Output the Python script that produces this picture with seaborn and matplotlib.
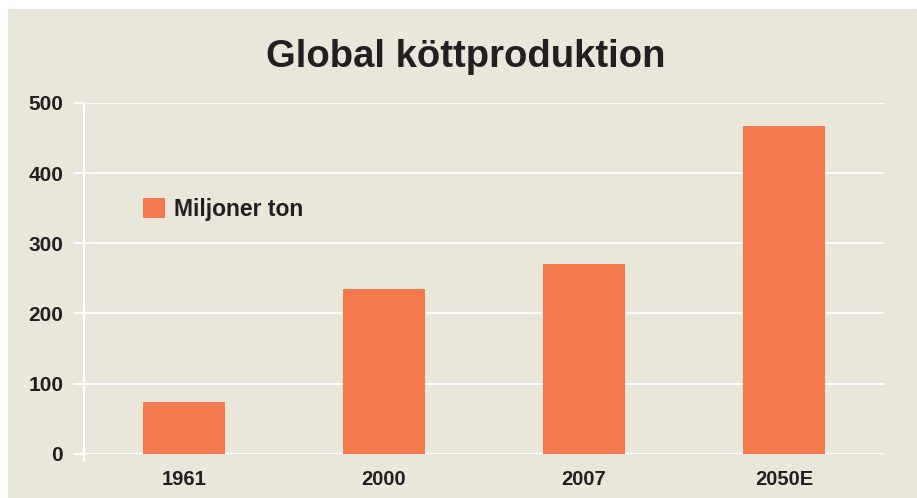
import numpy as np
import pandas as pd
import matplotlib.pyplot as plt
import matplotlib.patches as mpatches
import seaborn as sns

# data (million tonnes of meat)
years = ["1961", "2000", "2007", "2050E"]
production = [74, 235, 270, 467]
yticks = [0, 100, 200, 300, 400, 500]

bg = "#E9E6DA"
bar_color = "#F47A4E"
ink = "#231F20"

sns.set_theme(style="white")
plt.rcParams['font.family'] = ['Liberation Sans', 'DejaVu Sans']
plt.rcParams['font.weight'] = 'bold'

fig = plt.figure(figsize=(9.17, 4.98), dpi=100)
fig.patch.set_facecolor("white")
# beige panel with a thin white margin at left and top
fig.patches.append(mpatches.Rectangle((8 / 917, 0), 1, 1 - 9 / 498, transform=fig.transFigure,
                                      facecolor=bg, edgecolor="none", zorder=-1))

ax = fig.add_axes([84 / 917, 44.3 / 498, 800 / 917, 350.7 / 498])
ax.set_facecolor(bg)

df = pd.DataFrame({"Year": years, "Production": production})
sns.barplot(data=df, x="Year", y="Production", color=bar_color, saturation=1,
            width=0.41, linewidth=0, label="Miljoner ton", ax=ax, zorder=3)

ax.set_ylim(0, 500)
ax.set_xlim(-0.5, 3.5)
ax.set_yticks(yticks)
ax.yaxis.grid(True, color="white", linewidth=1.5, zorder=0)
ax.set_axisbelow(True)
ax.set_xlabel("")
ax.set_ylabel("")

for side in ["top", "right", "bottom"]:
    ax.spines[side].set_visible(False)
ax.spines["left"].set_color("white")
ax.spines["left"].set_linewidth(1.5)
ax.spines["left"].set_bounds(-9, 500)

ax.tick_params(axis="y", length=8, width=1.5, color="white", pad=7,
               labelsize=15, labelcolor=ink, left=True)
ax.tick_params(axis="x", length=0, pad=12, labelsize=14.5, labelcolor=ink)
for lab in ax.get_xticklabels() + ax.get_yticklabels():
    lab.set_fontweight("bold")

fig.text(466 / 917, 1 - 57 / 498, "Global köttproduktion", ha="center", va="center",
         fontsize=27.5, fontweight="bold", color=ink)

leg = ax.legend(loc="upper left", bbox_to_anchor=(143 / 917, 1 - 198 / 498),
                bbox_transform=fig.transFigure, frameon=False, borderpad=0,
                borderaxespad=0, handlelength=0.95, handleheight=0.95,
                handletextpad=0.4, prop={"size": 16.5, "weight": "bold"})
for t in leg.get_texts():
    t.set_color(ink)

fig.savefig("out.png", dpi=100, facecolor=fig.get_facecolor())
